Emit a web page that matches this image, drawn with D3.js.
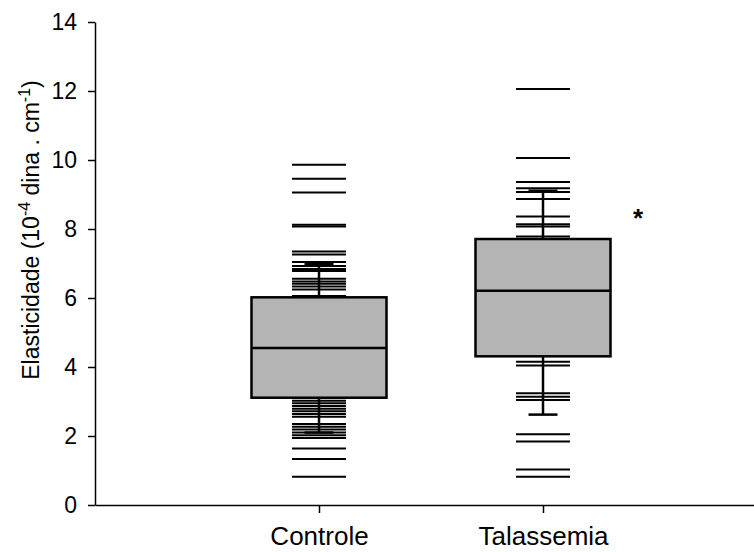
<!DOCTYPE html>
<html>
<head>
<meta charset="utf-8">
<script src="https://cdn.jsdelivr.net/npm/d3@7"></script>
<style>
  body { margin: 0; background: #fff; }
  svg { display: block; font-family: "Liberation Sans", Arial, sans-serif; }
</style>
</head>
<body>
<svg width="754" height="552"></svg>
<script>
// categories and box statistics
var categories = ['Controle', 'Talassemia'];
var q1 = [3.11, 4.31];
var medians = [4.55, 6.21];
var q3 = [6.02, 7.71];
var whiskerLow = [2.10, 2.62];
var whiskerHigh = [6.98, 9.11];

// individual observations drawn as dashes
var controlePoints = [9.86, 9.46, 9.06, 8.12, 8.07, 7.35, 7.26, 7.04, 6.93, 6.84, 6.78,
  6.56, 6.48, 6.41, 6.33, 6.25, 6.06, 3.10, 3.02, 2.95, 2.87, 2.79, 2.72, 2.64, 2.56,
  2.35, 2.27, 2.19, 2.10, 2.02, 1.94, 1.64, 1.33, 0.82];
var talassemiaPoints = [12.06, 10.06, 9.36, 9.18, 9.07, 8.87, 8.36, 8.14, 8.07, 7.78,
  4.15, 4.04, 3.24, 3.14, 3.04, 2.05, 1.84, 1.03, 0.82];

var yTicks = [0, 2, 4, 6, 8, 10, 12, 14];

var svg = d3.select('svg');

//define scales
var xScale = d3.scaleLinear().domain([0, 3]).range([95, 767]);
var yScale = d3.scaleLinear().domain([0, 14]).range([505, 22]);

var groups = categories.map((c, i) => ({
  name: c, pos: i + 1,
  q1: q1[i], median: medians[i], q3: q3[i],
  lo: whiskerLow[i], hi: whiskerHigh[i],
  points: i === 0 ? controlePoints : talassemiaPoints
}));

var boxHalf = 67.5, dashHalf = 27, capHalf = 14.5;

//Y axis
var yAxis = d3.axisLeft(yScale).tickValues(yTicks).tickSize(7).tickSizeOuter(0).tickPadding(11);
var gy = svg.append('g').attr('transform', 'translate(95,0)').call(yAxis);
gy.select('.domain').attr('stroke', '#000').attr('stroke-width', 1.5);
gy.selectAll('.tick line').attr('stroke', '#000').attr('stroke-width', 1.5);
gy.selectAll('.tick text').attr('font-size', 23).attr('fill', '#000');

//X axis
var xAxis = d3.axisBottom(xScale).tickValues([1, 2]).tickFormat((d, i) => categories[i])
  .tickSize(8).tickSizeOuter(0).tickPadding(14);
var gx = svg.append('g').attr('transform', 'translate(0,505)').call(xAxis);
gx.select('.domain').attr('stroke', '#000').attr('stroke-width', 1.5);
gx.selectAll('.tick line').attr('stroke', '#000').attr('stroke-width', 1.5);
gx.selectAll('.tick text').attr('font-size', 26).attr('fill', '#000');

var g = svg.append('g');

//data dashes
groups.forEach(d => {
  g.append('g').selectAll('line').data(d.points).enter().append('line')
    .attr('x1', xScale(d.pos) - dashHalf).attr('x2', xScale(d.pos) + dashHalf)
    .attr('y1', v => yScale(v)).attr('y2', v => yScale(v))
    .attr('stroke', '#000').attr('stroke-width', 2);
});

//whiskers and caps
var bg = g.selectAll('.box').data(groups).enter().append('g').attr('class', 'box');
bg.append('line')
  .attr('x1', d => xScale(d.pos)).attr('x2', d => xScale(d.pos))
  .attr('y1', d => yScale(d.lo)).attr('y2', d => yScale(d.hi))
  .attr('stroke', '#000').attr('stroke-width', 2.5);
['lo', 'hi'].forEach(k => {
  bg.append('line')
    .attr('x1', d => xScale(d.pos) - capHalf).attr('x2', d => xScale(d.pos) + capHalf)
    .attr('y1', d => yScale(d[k])).attr('y2', d => yScale(d[k]))
    .attr('stroke', '#000').attr('stroke-width', 2.5);
});

//box
bg.append('rect')
  .attr('x', d => xScale(d.pos) - boxHalf).attr('width', boxHalf * 2)
  .attr('y', d => yScale(d.q3)).attr('height', d => yScale(d.q1) - yScale(d.q3))
  .attr('fill', '#b4b4b4').attr('stroke', '#000').attr('stroke-width', 2.5);
bg.append('line')
  .attr('x1', d => xScale(d.pos) - boxHalf).attr('x2', d => xScale(d.pos) + boxHalf)
  .attr('y1', d => yScale(d.median)).attr('y2', d => yScale(d.median))
  .attr('stroke', '#000').attr('stroke-width', 2.5);

//significance mark
svg.append('text').attr('x', 638).attr('y', 227).attr('text-anchor', 'middle')
  .attr('font-size', 26).attr('font-weight', 'bold').text('*');

//Y axis label
var lab = svg.append('text')
  .attr('transform', 'translate(39,230) rotate(-90)')
  .attr('text-anchor', 'middle').attr('font-size', 23);
lab.append('tspan').text('Elasticidade (10');
lab.append('tspan').attr('dy', -9).attr('font-size', 16).text('-4');
lab.append('tspan').attr('dy', 9).text(' dina . cm');
lab.append('tspan').attr('dy', -9).attr('font-size', 16).text('-1');
lab.append('tspan').attr('dy', 9).text(')');
</script>
</body>
</html>
